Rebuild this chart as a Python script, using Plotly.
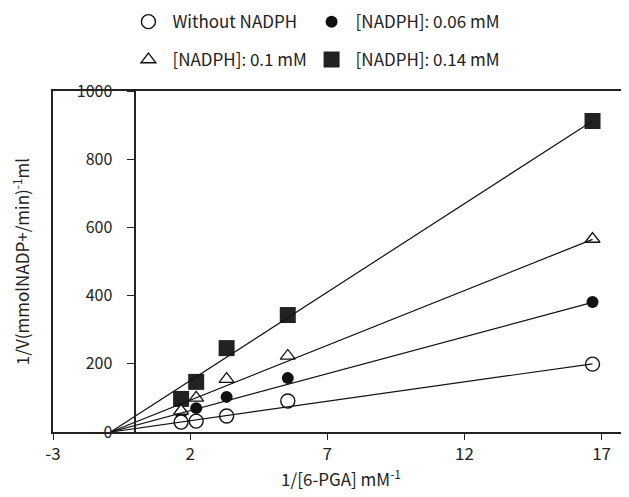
import plotly.graph_objects as go

# ---- data ----
inv_pga = [1.67, 2.22, 3.33, 5.56, 16.67]          # 1/[6-PGA] (mM^-1)

series_names = ["Without NADPH", "[NADPH]: 0.06 mM", "[NADPH]: 0.1 mM", "[NADPH]: 0.14 mM"]
without_nadph = [29, 32, 47, 91, 199]
nadph_006 = [55, 70, 103, 158, 381]
nadph_010 = [62, 100, 155, 223, 566]
nadph_014 = [97, 147, 246, 343, 912]

# fitted lines: common x-intercept and value at the last point
line_x_start = -0.9
line_x_end = 16.67
line_end_values = [200, 380, 565, 912]

x_ticks = [-3, 2, 7, 12, 17]
x_tick_labels = ["-3", "2", "7", "12", "17"]
y_ticks = [0, 200, 400, 600, 800, 1000]
x_range = [-3, 18]
y_range = [0, 1000]

FONT = "Noto Sans CJK JP"
TXT = "#222222"

fig = go.Figure()

# regression lines (drawn on the y2 axis, which carries the ticks at x = 0)
for end in line_end_values:
    fig.add_trace(go.Scatter(
        x=[line_x_start, line_x_end], y=[0, end], mode="lines", yaxis="y2",
        line=dict(color="#111111", width=1.2), showlegend=False, hoverinfo="skip"))

series_vals = [without_nadph, nadph_006, nadph_010, nadph_014]
styles = [
    dict(symbol="circle", size=14, color="white", line=dict(color="#111111", width=1.4)),
    dict(symbol="circle", size=12, color="#111111", line=dict(color="#111111", width=0)),
    dict(symbol="triangle-up", size=13, color="white", line=dict(color="#111111", width=1.3)),
    dict(symbol="square", size=16, color="#222222", line=dict(color="#111111", width=0)),
]
legend_ids = ["legend", "legend2", "legend3", "legend4"]
draw_order = [3, 1, 2, 0]
for i in draw_order:
    fig.add_trace(go.Scatter(
        x=inv_pga, y=series_vals[i], mode="markers", name=series_names[i],
        marker=styles[i], legend=legend_ids[i]))

legend_common = dict(itemwidth=38,
                     font=dict(family=FONT, size=17, color=TXT),
                     bgcolor="rgba(0,0,0,0)", xanchor="left", yanchor="middle",
                     itemclick=False, itemdoubleclick=False)
col_x = [0.124, 0.442]
row_y = [1.202, 1.091]

# the page places the figure 8 px from the top-left corner of the window
fig.update_layout(
    width=621, height=489,
    margin=dict(l=45, r=0, t=83, b=65, autoexpand=False),
    paper_bgcolor="white", plot_bgcolor="white",
    font=dict(family=FONT, size=17, color=TXT),
    legend=dict(x=col_x[0], y=row_y[0], **legend_common),
    legend2=dict(x=col_x[1], y=row_y[0], **legend_common),
    legend3=dict(x=col_x[0], y=row_y[1], **legend_common),
    legend4=dict(x=col_x[1], y=row_y[1], **legend_common),
    xaxis=dict(range=x_range, tickvals=x_ticks, ticktext=x_tick_labels,
               ticks="outside", ticklen=6,
               tickwidth=1.2, tickcolor="#222222",
               showline=True, linecolor="#222222", linewidth=1.6, mirror=True,
               showgrid=False, zeroline=False,
               tickfont=dict(family=FONT, size=17, color=TXT),
               title=dict(text="1/[6-PGA] mM<sup>-1</sup>",
                          font=dict(family=FONT, size=17, color=TXT), standoff=4)),
    yaxis=dict(range=y_range, showline=True, linecolor="#222222", linewidth=1.6,
               showgrid=False, zeroline=False, ticks="", showticklabels=False,
               title=dict(text="1/V(mmolNADP+/min)<sup>-1</sup>ml",
                          font=dict(family=FONT, size=17, color=TXT), standoff=22)),
    yaxis2=dict(range=y_range, overlaying="y", anchor="free", position=3 / 21,
                tickvals=y_ticks, ticks="outside", ticklen=7, tickwidth=1.2,
                tickcolor="#222222", showline=True, linecolor="#222222", linewidth=1.6,
                showgrid=False, zeroline=False, ticklabelstandoff=12,
                tickfont=dict(family=FONT, size=16, color=TXT)),
)

fig.write_html("out.html")
